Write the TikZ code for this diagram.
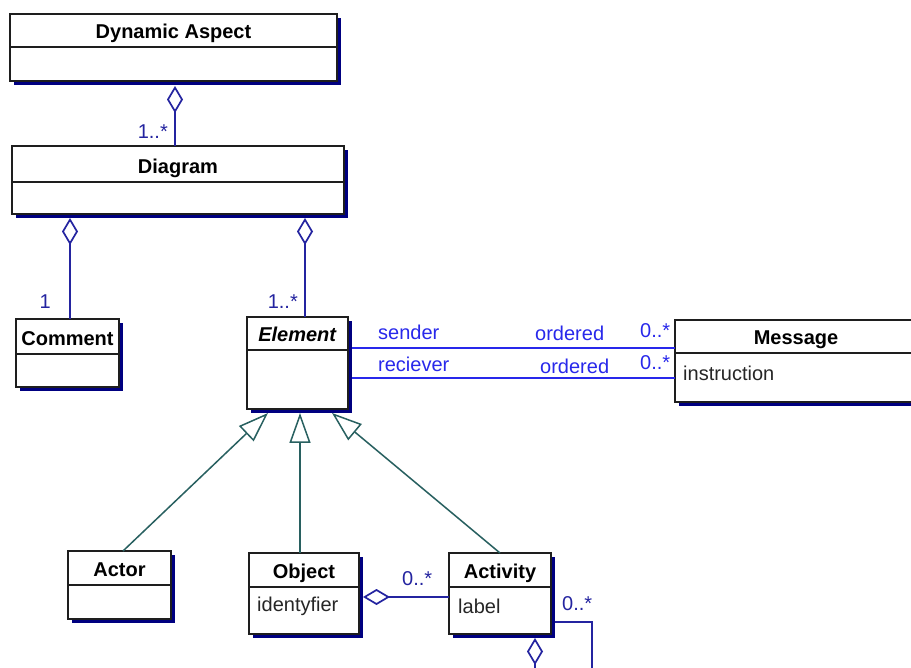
\documentclass[tikz,border=0pt]{standalone}
\usepackage{fontspec}
\setmainfont{Liberation Sans}
\usetikzlibrary{arrows.meta}

\definecolor{shadowblue}{RGB}{0,0,128}
\definecolor{aggblue}{RGB}{36,36,160}
\definecolor{assocblue}{RGB}{40,40,235}
\definecolor{genteal}{RGB}{40,96,96}
\definecolor{border}{RGB}{30,30,30}

\tikzset{
  classframe/.style={draw=border, line width=1.8pt, fill=white, inner sep=0pt, outer sep=0pt},
  classline/.style={draw=border, line width=1.8pt},
  classtitle/.style={font=\fontsize{20}{24}\selectfont\bfseries, inner sep=0pt, anchor=base},
  attrtext/.style={font=\fontsize{20}{24}\selectfont, text=black!85, anchor=west, inner sep=0pt},
  multlabel/.style={font=\fontsize{20}{24}\selectfont, text=aggblue, inner sep=0pt},
  rolelabel/.style={font=\fontsize{20}{24}\selectfont, text=assocblue, inner sep=0pt, anchor=west},
  aggregation/.style={draw=aggblue, line width=1.7pt,
    {Diamond[open, length=27pt, width=16pt, fill=white]}-},
  association/.style={draw=assocblue, line width=1.6pt},
  generalization/.style={draw=genteal, line width=1.5pt,
    -{Triangle[open, length=30pt, width=21pt, fill=white]}},
}

% class box: name, left, top, right, bottom, divider, title
\newcommand{\classbox}[7]{%
  \fill[shadowblue] (#2+4,#3+4) rectangle (#4+4,#5+4);
  \node[classframe, minimum width={(#4-#2)*1pt}, minimum height={(#5-#3)*1pt},
        anchor=north west] (#1) at (#2,#3) {};
  \draw[classline] (#2,#6) -- (#4,#6);
  \node[classtitle] (#1-title) at ({(#2+#4)/2},#6-8.5) {#7};
}

\begin{document}
\begin{tikzpicture}[x=1pt, y=-1pt]
\useasboundingbox (0,0) rectangle (911,668);
\fill[white] (0,0) rectangle (911,668);
\clip (0,0) rectangle (911,668);

% classes
\classbox{aspect}{10}{14}{337}{81}{47}{Dynamic Aspect}
\classbox{diagram}{12}{146}{344}{214}{182}{Diagram}
\classbox{comment}{16}{319}{119}{387}{354}{Comment}
\classbox{element}{247}{317}{348}{409}{350}{\textit{Element}}
\classbox{message}{675}{320}{917}{402}{353}{Message}
\classbox{actor}{68}{551}{171}{619}{585}{Actor}
\classbox{object}{249}{553}{359}{634}{587}{Object}
\classbox{activity}{449}{553}{551}{634}{587}{Activity}

% attributes
\node[attrtext] (message-attr) at (683,373) {instruction};
\node[attrtext] (object-attr) at (257,606) {identyfier};
\node[attrtext] (activity-attr) at (458,606) {label};

% aggregations
\draw[aggregation] ([shift={(1.5pt,-5pt)}]aspect.south) -- ([xshift=-3pt]diagram.north);
\draw[aggregation] ([shift={(-108pt,-4pt)}]diagram.south) -- ([xshift=2.5pt]comment.north);
\draw[aggregation] ([shift={(127pt,-4pt)}]diagram.south) -- ([xshift=7.5pt]element.north);
\draw[aggregation] ([shift={(4pt,-3.5pt)}]object.east) -- ([yshift=-3.5pt]activity.west);
\coordinate (loop-bottom) at (592,700);
\draw[aggregation] ([shift={(35pt,-4pt)}]activity.south) |- (loop-bottom)
  |- ([shift={(4pt,-28.5pt)}]activity.east);

% multiplicities of the aggregations
\node[multlabel, anchor=east] (m-diagram) at (168,132) {1..*};
\node[multlabel, anchor=east] (m-comment) at (51,302) {1};
\node[multlabel, anchor=east] (m-element) at (298,302) {1..*};
\node[multlabel, anchor=west] (m-object) at (402,579) {0..*};
\node[multlabel, anchor=west] (m-activity) at (562,604) {0..*};

% associations between Element and Message
\draw[association] ([shift={(4pt,15pt)}]element.east) -- ([yshift=15pt]element.east -| message.west);
\draw[association] ([shift={(4pt,-15pt)}]element.east) -- ([yshift=-15pt]element.east -| message.west);
\node[rolelabel] (r-sender) at (378,332) {sender};
\node[rolelabel] (r-order1) at (535,333) {ordered};
\node[rolelabel] (r-mult1) at (640,331) {0..*};
\node[rolelabel] (r-reciever) at (378,364) {reciever};
\node[rolelabel] (r-order2) at (540,366) {ordered};
\node[rolelabel] (r-mult2) at (640,363) {0..*};

% generalizations
\draw[generalization] ([xshift=3.5pt]actor.north) -- ([shift={(-29.5pt,-4pt)}]element.south);
\draw[generalization] ([xshift=-4pt]object.north) -- ([shift={(2.5pt,-4pt)}]element.south);
\draw[generalization] (activity.north) -- ([shift={(34.5pt,-4pt)}]element.south);
\end{tikzpicture}
\end{document}
